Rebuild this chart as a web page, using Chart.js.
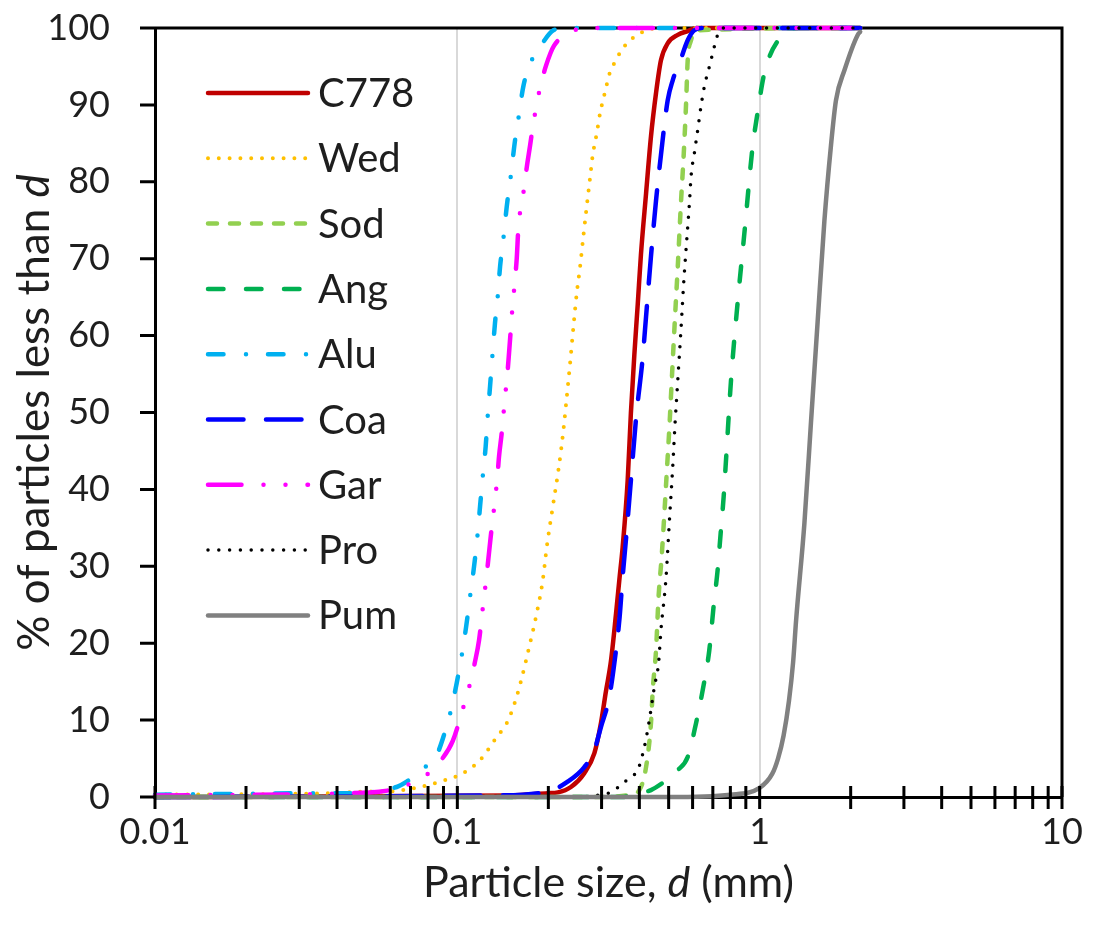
<!DOCTYPE html>
<html>
<head>
<meta charset="utf-8">
<title>Particle size distribution</title>
<script src="https://cdn.jsdelivr.net/npm/chart.js@4.4.1/dist/chart.umd.min.js"></script>
<style>
  html, body { margin: 0; padding: 0; background: #fff; }
  #wrap { width: 1097px; height: 934px; }
</style>
</head>
<body>
<div id="wrap"><canvas id="psd" width="1097" height="934"></canvas></div>
<script>
// Cumulative size distributions: particle size d (mm) and % of particles finer than d
const c778Size = [0.01, 0.15, 0.199, 0.215, 0.2375, 0.263, 0.284, 0.2985, 0.310, 0.322, 0.335, 0.3434, 0.3522, 0.366, 0.375, 0.385, 0.395, 0.4048, 0.421, 0.437, 0.454, 0.4715, 0.4963, 0.536, 0.578, 0.62, 2.15];
const c778Pct  = [0, 0.2, 0.5, 0.6, 1.3, 3.1, 5.7, 9.6, 13.7, 17.6, 23.9, 28.2, 32.5, 41.2, 49.9, 57.5, 64, 70.5, 78.5, 85.9, 91.5, 95.8, 98, 99.1, 99.6, 100, 100];

const wedSize = [0.01, 0.0389, 0.0501, 0.0569, 0.0663, 0.0753, 0.0877, 0.1021, 0.1189, 0.135, 0.1457, 0.1532, 0.1612, 0.174, 0.1831, 0.1917, 0.1976, 0.2053, 0.2175, 0.2243, 0.2301, 0.236, 0.2419, 0.2483, 0.2546, 0.2611, 0.2679, 0.2748, 0.2805, 0.2892, 0.2965, 0.3081, 0.32, 0.3325, 0.3453, 0.3634, 0.387, 0.4231, 0.46, 2.15];
const wedPct  = [0.3, 0.5, 0.7, 0.7, 0.9, 1.3, 2.0, 2.9, 4.8, 7.8, 9.6, 11.7, 14.6, 20, 23.9, 28.2, 32.5, 36.9, 43.4, 47.7, 52, 56.4, 61, 65.5, 68.9, 72.9, 76.8, 80.5, 83.5, 86.3, 88.9, 91.7, 94.3, 95.6, 96.8, 98, 98.9, 99.7, 100, 100];

const sodSize = [0.01, 0.3, 0.375, 0.40, 0.421, 0.437, 0.443, 0.454, 0.463, 0.474, 0.484, 0.494, 0.503, 0.512, 0.525, 0.536, 0.549, 0.561, 0.571, 0.578, 0.593, 0.616, 2.15];
const sodPct  = [0, 0, 0.3, 0.9, 3.9, 9.6, 13.9, 19, 26, 31.2, 36.9, 42.9, 48.2, 54.2, 62.5, 69, 77.2, 83.7, 90.2, 95.8, 98.4, 99.7, 100];

const angSize = [0.01, 0.35, 0.395, 0.437, 0.484, 0.536, 0.578, 0.616, 0.648, 0.681, 0.705, 0.726, 0.743, 0.760, 0.775, 0.804, 0.846, 0.890, 0.948, 0.980, 1.036, 1.176, 1.3, 2.15];
const angPct  = [0, 0, 0.5, 0.9, 2.0, 3.5, 5.2, 9.6, 13.9, 19, 25, 29.5, 34.3, 39, 44.2, 54.2, 64.4, 73.3, 84.6, 88.5, 94.1, 98.9, 100, 100];

const aluSize = [0.01, 0.0399, 0.0442, 0.063, 0.068, 0.0772, 0.0855, 0.0899, 0.0946, 0.0995, 0.1034, 0.1069, 0.1102, 0.1136, 0.1165, 0.1189, 0.1213, 0.1241, 0.126, 0.1283, 0.1305, 0.1332, 0.136, 0.1385, 0.142, 0.1457, 0.1502, 0.1552, 0.1592, 0.1653, 0.1762, 0.1925, 0.2078, 0.23, 2.15];
const aluPct  = [0.3, 0.5, 0.5, 1.3, 2.0, 3.7, 5.5, 7.8, 10.8, 14.8, 18.4, 22.1, 26.1, 30, 33.9, 37.8, 41.6, 45.6, 49.5, 53.4, 57.2, 61.6, 65.1, 69, 72.6, 76.8, 80.7, 85.4, 88.2, 92.4, 95.8, 98.2, 99.7, 100, 100];

const coaSize = [0.01, 0.13, 0.199, 0.2317, 0.2631, 0.2839, 0.2985, 0.3182, 0.3346, 0.3442, 0.3522, 0.3618, 0.3758, 0.3904, 0.410, 0.421, 0.437, 0.454, 0.4715, 0.4963, 0.5157, 0.549, 0.578, 0.608, 0.65, 2.15];
const coaPct  = [0, 0.2, 0.7, 2, 3.9, 6.1, 9.1, 13, 19, 23.4, 28.6, 33.8, 41.6, 49.4, 57, 62.5, 70.3, 77.5, 83.5, 90.6, 93.2, 96, 98.4, 99.7, 100, 100];

const garSize = [0.01, 0.0514, 0.0599, 0.0688, 0.0792, 0.0888, 0.0966, 0.1047, 0.1102, 0.1144, 0.118, 0.1219, 0.1244, 0.1267, 0.129, 0.1332, 0.1356, 0.1374, 0.1402, 0.1438, 0.1463, 0.1483, 0.1502, 0.1517, 0.1545, 0.1572, 0.1592, 0.1653, 0.1697, 0.174, 0.1784, 0.1877, 0.1965, 0.2089, 0.239, 0.26, 2.15];
const garPct  = [0.2, 0.6, 0.9, 1.6, 2.9, 4.9, 7.3, 11.7, 14.8, 17.6, 20.4, 25.2, 28.1, 31, 33.9, 38.6, 41.5, 44.3, 47.3, 52, 54.9, 57.8, 60.7, 63, 66.5, 70, 74, 78.5, 81.9, 84.7, 87.6, 92.2, 95.1, 97.7, 99.5, 100, 100];

const proSize = [0.01, 0.25, 0.2985, 0.3264, 0.3477, 0.375, 0.395, 0.4155, 0.4316, 0.4484, 0.463, 0.4715, 0.4898, 0.503, 0.5157, 0.525, 0.536, 0.549, 0.561, 0.575, 0.5856, 0.593, 0.608, 0.6236, 0.6395, 0.6563, 0.682, 0.699, 0.726, 0.76, 2.15];
const proPct  = [0, 0, 0.3, 0.7, 1.6, 2.6, 3.5, 6.5, 10, 14.3, 17.4, 21.7, 28.4, 36, 42.9, 48.6, 54.2, 60.7, 67, 72.9, 77.2, 80.7, 83.7, 86.7, 89.8, 92.4, 95, 96.7, 99.1, 100, 100];

const pumSize = [0.01, 0.5, 0.8, 1.0, 1.10, 1.15, 1.20, 1.25, 1.29, 1.32, 1.406, 1.478, 1.555, 1.637, 1.721, 1.788, 1.907, 2.11, 2.15];
const pumPct  = [0, 0, 0.3, 1.2, 3, 5, 8, 12.5, 17.5, 23, 35.6, 48.7, 61.8, 74.9, 84.7, 90.6, 94.5, 99.1, 99.5];

// axis ticks
const sizeTicks = [0.01, 0.02, 0.03, 0.04, 0.05, 0.06, 0.07, 0.08, 0.09,
                   0.1, 0.2, 0.3, 0.4, 0.5, 0.6, 0.7, 0.8, 0.9,
                   1, 2, 3, 4, 5, 6, 7, 8, 9, 10];
const sizeLabels = [0.01, 0.1, 1, 10];
const sizeGrid = [0.1, 1];

const FONT = 'Lato, "Open Sans", sans-serif';
const TEXT = '#1e1e1e';

// line look of each material
const series = [
    { label: 'C778', size: c778Size, pct: c778Pct, color: '#C00000', width: 4.5, dash: [] },
    { label: 'Wed',  size: wedSize,  pct: wedPct,  color: '#FFC000', width: 4,   dash: [0, 10.8] },
    { label: 'Sod',  size: sodSize,  pct: sodPct,  color: '#92D050', width: 4.5, dash: [9, 13] },
    { label: 'Ang',  size: angSize,  pct: angPct,  color: '#00B050', width: 4.5, dash: [15.5, 22.5] },
    { label: 'Alu',  size: aluSize,  pct: aluPct,  color: '#00B0F0', width: 4.5, dash: [15.5, 22.5, 0, 22] },
    { label: 'Coa',  size: coaSize,  pct: coaPct,  color: '#0000FF', width: 4.5, dash: [35.5, 22.5] },
    { label: 'Gar',  size: garSize,  pct: garPct,  color: '#FF00FF', width: 4.5, dash: [33.5, 22, 0, 22, 0, 22] },
    { label: 'Pro',  size: proSize,  pct: proPct,  color: '#000000', width: 3.5, dash: [0, 10.8] },
    { label: 'Pum',  size: pumSize,  pct: pumPct,  color: '#808080', width: 4.5, dash: [] }
];

const datasets = series.map((s, i) => ({
    label: s.label,
    data: s.size.map((d, k) => ({ x: d, y: s.pct[k] })),
    borderColor: s.color,
    borderWidth: s.width,
    borderDash: s.dash,
    borderCapStyle: 'round',
    borderJoinStyle: 'round',
    cubicInterpolationMode: 'monotone',
    pointRadius: 0,
    pointHoverRadius: 0,
    fill: false,
    clip: 8,
    order: series.length - i   // later materials sit on top
}));

// top and right edges of the plot box, drawn under the curves
const frameBox = {
    id: 'frameBox',
    beforeDatasetsDraw(chart) {
        const { ctx, chartArea: a } = chart;
        ctx.save();
        ctx.strokeStyle = '#000';
        ctx.lineWidth = 3;
        ctx.beginPath();
        ctx.moveTo(a.left, a.top);
        ctx.lineTo(a.right, a.top);
        ctx.lineTo(a.right, a.bottom);
        ctx.stroke();
        ctx.restore();
    },
    // tick marks crossing the axis lines
    afterDatasetsDraw(chart) {
        const { ctx, scales: { x, y } } = chart;
        ctx.save();
        ctx.strokeStyle = '#000';
        ctx.lineWidth = 3;
        ctx.beginPath();
        x.ticks.forEach((t, i) => {
            const px = x.getPixelForTick(i);
            ctx.moveTo(px, x.top - 11);
            ctx.lineTo(px, x.top + 12);
        });
        y.ticks.forEach((t, i) => {
            const py = y.getPixelForTick(i);
            ctx.moveTo(y.right - 15, py);
            ctx.lineTo(y.right, py);
        });
        ctx.stroke();
        ctx.restore();
    }
};

// legend inside the plot, top left
const innerLegend = {
    id: 'innerLegend',
    afterDraw(chart) {
        const { ctx, chartArea: a } = chart;
        const x0 = a.left + 53, x1 = a.left + 153, rowH = 65.3;
        ctx.save();
        chart.data.datasets.forEach((ds, i) => {
            const yy = a.top + 65 + i * rowH;
            ctx.strokeStyle = ds.borderColor;
            ctx.lineWidth = ds.borderWidth;
            ctx.lineCap = 'round';
            ctx.setLineDash(ds.borderDash);
            ctx.beginPath();
            ctx.moveTo(x0, yy);
            ctx.lineTo(x1, yy);
            ctx.stroke();
            ctx.setLineDash([]);
            ctx.fillStyle = TEXT;
            ctx.font = '40px ' + FONT;
            ctx.textAlign = 'left';
            ctx.textBaseline = 'alphabetic';
            ctx.fillText(ds.label, x1 + 10, yy + 14);
        });
        ctx.restore();
    }
};

// draws a run of [text, italic] pieces centred on 0,0
function drawMixed(ctx, parts, size) {
    const fonts = parts.map(p => (p[1] ? 'italic ' : '') + size + 'px ' + FONT);
    let total = 0;
    const widths = parts.map((p, i) => { ctx.font = fonts[i]; const w = ctx.measureText(p[0]).width; total += w; return w; });
    let cx = -total / 2;
    ctx.textAlign = 'left';
    ctx.textBaseline = 'middle';
    parts.forEach((p, i) => {
        ctx.font = fonts[i];
        ctx.fillText(p[0], cx, 0);
        cx += widths[i];
    });
}

const axisTitles = {
    id: 'axisTitles',
    afterDraw(chart) {
        const { ctx, chartArea: a } = chart;
        ctx.save();
        ctx.fillStyle = TEXT;
        ctx.translate((a.left + a.right) / 2, 883);
        drawMixed(ctx, [['Particle size, ', false], ['d', true], [' (mm)', false]], 43);
        ctx.restore();
        ctx.save();
        ctx.fillStyle = TEXT;
        ctx.translate(35, (a.top + a.bottom) / 2);
        ctx.rotate(-Math.PI / 2);
        drawMixed(ctx, [['% of particles less than ', false], ['d', true]], 44);
        ctx.restore();
    }
};

new Chart(document.getElementById('psd'), {
    type: 'line',
    data: { datasets: datasets },
    options: {
        responsive: false,
        animation: false,
        events: [],
        layout: { padding: { top: 28, right: 35, left: 0, bottom: 0 } },
        plugins: {
            legend: { display: false },
            tooltip: { enabled: false }
        },
        scales: {
            x: {
                type: 'logarithmic',
                min: 0.01,
                max: 10,
                afterBuildTicks: s => { s.ticks = sizeTicks.map(v => ({ value: v })); },
                afterFit: s => { s.height = 137; s.paddingLeft = 0; s.paddingRight = 0; },
                grid: {
                    color: c => (c.tick && sizeGrid.includes(c.tick.value)) ? '#D9D9D9' : 'rgba(0,0,0,0)',
                    lineWidth: 2,
                    drawTicks: false
                },
                border: { color: '#000', width: 3 },
                ticks: {
                    autoSkip: false,
                    maxRotation: 0,
                    minRotation: 0,
                    padding: 14,
                    color: TEXT,
                    font: { family: FONT, size: 36 }
                    ,
                    callback: v => sizeLabels.includes(v) ? String(v) : ''
                }
            },
            y: {
                min: 0,
                max: 100,
                afterFit: s => { s.width = 155; s.paddingTop = 0; s.paddingBottom = 0; },
                grid: { display: false, drawTicks: false },
                border: { color: '#000', width: 3 },
                ticks: {
                    stepSize: 10,
                    padding: 45,
                    color: TEXT,
                    font: { family: FONT, size: 36 }
                }
            }
        }
    },
    plugins: [frameBox, innerLegend, axisTitles]
});
</script>
</body>
</html>
